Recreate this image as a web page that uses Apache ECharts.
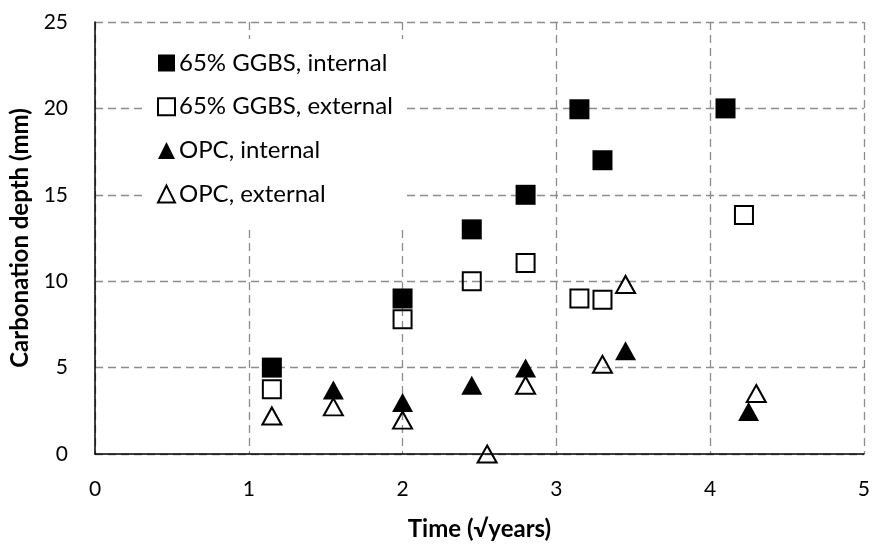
<!DOCTYPE html>
<html>
<head>
<meta charset="utf-8">
<script src="https://cdn.jsdelivr.net/npm/echarts@6/dist/echarts.min.js"></script>
<style>html,body{margin:0;padding:0;background:#fff}#c{width:873px;height:546px}</style>
</head>
<body>
<div id="c"></div>
<script>
const seriesNames = ['65% GGBS, internal', '65% GGBS, external', 'OPC, internal', 'OPC, external'];
const ggbsInternal = [[1.15, 5.0], [2.0, 9.0], [2.45, 13.0], [2.8, 15.0], [3.15, 19.95], [3.3, 17.0], [4.1, 20.0]];
const ggbsExternal = [[1.15, 3.75], [2.0, 7.8], [2.45, 10.0], [2.8, 11.05], [3.15, 9.0], [3.3, 8.93], [4.22, 13.83]];
const opcInternal = [[1.55, 3.7], [2.0, 2.98], [2.45, 3.98], [2.8, 4.98], [3.45, 5.98], [4.25, 2.46]];
const opcExternal = [[1.15, 2.2], [1.55, 2.73], [2.0, 1.96], [2.55, 0.0], [2.8, 3.98], [3.3, 5.19], [3.45, 9.81], [4.3, 3.5]];
const xTicks = [0, 1, 2, 3, 4, 5];
const yTicks = [0, 5, 10, 15, 20, 25];

const FONT = 'Lato';
const chart = echarts.init(document.getElementById('c'));
const grid = { lineStyle: { color: '#8c8c8c', width: 1.3, type: [8, 5] } };
chart.setOption({
  animation: false,
  backgroundColor: '#fff',
  grid: { left: 95, right: 6, top: 22, bottom: 90, containLabel: false },
  legend: {
    orient: 'vertical', left: 143, top: 39,
    backgroundColor: '#fff',
    padding: [12, 12, 23, 14],
    itemWidth: 17, itemHeight: 17, itemGap: 19.7,
    textStyle: { fontFamily: FONT, fontSize: 24, lineHeight: 24, color: '#000', padding: [0, 0, 0, -1] },
    data: seriesNames
  },
  xAxis: {
    type: 'value', min: xTicks[0], max: xTicks[xTicks.length - 1], interval: 1,
    name: 'Time (√years)', nameLocation: 'middle', nameGap: 63,
    nameTextStyle: { fontFamily: FONT, fontSize: 24, fontWeight: 'bold', color: '#000' },
    axisLine: { show: true, lineStyle: { color: '#000', width: 1.5 } },
    axisTick: { show: false },
    axisLabel: { fontFamily: FONT, fontSize: 21, color: '#000', margin: 25 },
    splitLine: Object.assign({ show: true }, grid)
  },
  yAxis: {
    type: 'value', min: yTicks[0], max: yTicks[yTicks.length - 1], interval: 5,
    name: 'Carbonation depth (mm)', nameLocation: 'middle', nameGap: 62,
    nameTextStyle: { fontFamily: FONT, fontSize: 24, fontWeight: 'bold', color: '#000' },
    axisLine: { show: true, lineStyle: { color: '#000', width: 1.5 } },
    axisTick: { show: false },
    axisLabel: { fontFamily: FONT, fontSize: 21, color: '#000', margin: 27 },
    splitLine: Object.assign({ show: true }, grid)
  },
  series: [
    { name: seriesNames[0], type: 'scatter', data: ggbsInternal, symbol: 'rect', symbolSize: 20,
      itemStyle: { color: '#000', opacity: 1 } },
    { name: seriesNames[1], type: 'scatter', data: ggbsExternal, symbol: 'rect', symbolSize: 18,
      itemStyle: { color: 'rgba(255,255,255,0)', borderColor: '#000', borderWidth: 2, opacity: 1 } },
    { name: seriesNames[2], type: 'scatter', data: opcInternal, symbol: 'triangle', symbolSize: [21, 19],
      itemStyle: { color: '#000', opacity: 1 } },
    { name: seriesNames[3], type: 'scatter', data: opcExternal, symbol: 'triangle', symbolSize: [19, 17],
      itemStyle: { color: 'rgba(255,255,255,0)', borderColor: '#000', borderWidth: 2, opacity: 1 } }
  ]
});
</script>
</body>
</html>
